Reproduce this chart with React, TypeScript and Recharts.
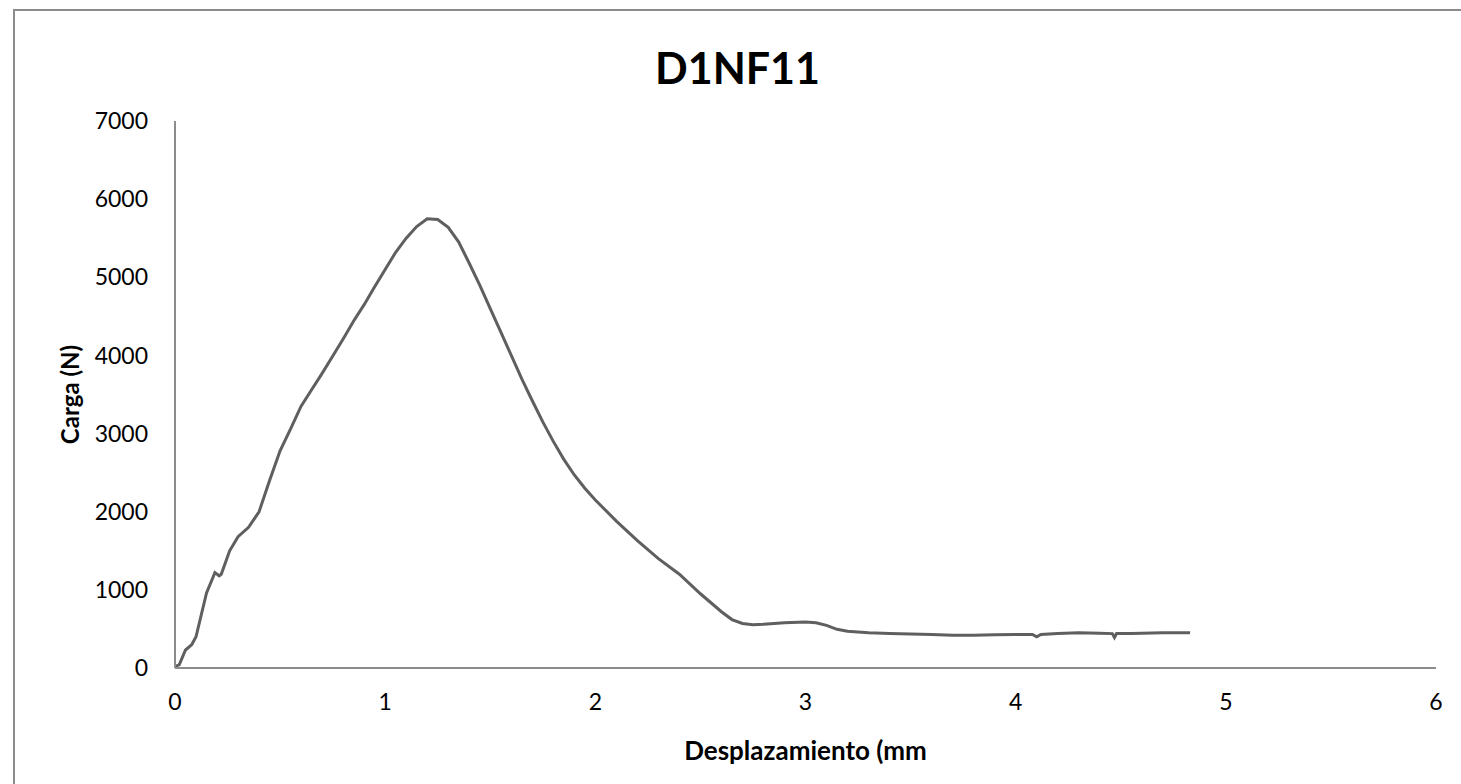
import React from 'react';
import { LineChart, Line, XAxis, YAxis, Label } from 'recharts';

// Desplazamiento (mm) and Carga (N)
const desplazamiento = [
  0, 0.02, 0.05, 0.08, 0.1, 0.15, 0.19, 0.21, 0.22, 0.26, 0.3, 0.35, 0.4, 0.45,
  0.5, 0.55, 0.6, 0.65, 0.7, 0.75, 0.8, 0.85, 0.9, 0.95, 1.0, 1.05, 1.1, 1.15,
  1.2, 1.25, 1.3, 1.35, 1.4, 1.45, 1.5, 1.55, 1.6, 1.65, 1.7, 1.75, 1.8, 1.85,
  1.9, 1.95, 2.0, 2.1, 2.2, 2.3, 2.4, 2.5, 2.6, 2.65, 2.7, 2.75, 2.8, 2.9,
  3.0, 3.05, 3.1, 3.15, 3.2, 3.3, 3.4, 3.5, 3.6, 3.7, 3.8, 3.9, 4.0, 4.08,
  4.1, 4.12, 4.2, 4.3, 4.4, 4.46, 4.47, 4.48, 4.55, 4.6, 4.7, 4.8, 4.83,
];
const carga = [
  20, 40, 230, 300, 400, 960, 1220, 1180, 1200, 1500, 1680, 1800, 2000, 2400,
  2780, 3060, 3350, 3560, 3770, 3990, 4210, 4440, 4650, 4880, 5100, 5320, 5500, 5650,
  5750, 5740, 5640, 5450, 5180, 4900, 4600, 4300, 4000, 3700, 3420, 3150, 2900, 2670,
  2470, 2300, 2150, 1880, 1630, 1400, 1200, 950, 720, 620, 570, 555, 560, 580,
  590, 580, 545, 495, 470, 450, 440, 435, 430, 420, 420, 425, 430, 430,
  400, 430, 440, 450, 445, 440, 390, 440, 440, 445, 450, 450, 450,
];

const xTicks = [0, 1, 2, 3, 4, 5, 6];
const yTicks = [0, 1000, 2000, 3000, 4000, 5000, 6000, 7000];

const data = desplazamiento.map((x, i) => ({ x, y: carga[i] }));

const font = 'Lato, "Open Sans", sans-serif';

export default function App() {
  return (
    <div style={{ position: 'absolute', left: 0, top: 0, width: 1461, height: 784, background: '#fff', fontFamily: font }}>
      {/* chart frame */}
      <div style={{ position: 'absolute', left: 13, top: 9, width: 1460, height: 790, borderLeft: '2px solid #8c8c8c', borderTop: '2px solid #8c8c8c' }} />
      <div style={{ position: 'absolute', left: 0, width: 1475, top: 42, textAlign: 'center', fontSize: 43, fontWeight: 700, color: '#000' }}>
        D1NF11
      </div>
      <LineChart
        width={1461}
        height={784}
        data={data}
        margin={{ top: 121, right: 25, left: 115, bottom: 86 }}
        style={{ position: 'absolute', left: 0, top: 0 }}
      >
        <XAxis
          dataKey="x"
          type="number"
          domain={[0, 6]}
          ticks={xTicks}
          height={30}
          tickLine={false}
          tickMargin={20}
          axisLine={{ stroke: '#8c8c8c', strokeWidth: 2 }}
          tick={{ fill: '#000', fontSize: 23, fontFamily: font }}
        >
          <Label value="Desplazamiento (mm" position="insideBottom" offset={-62} style={{ fill: '#000', fontSize: 26, fontWeight: 700, fontFamily: font }} />
        </XAxis>
        <YAxis
          type="number"
          domain={[0, 7000]}
          ticks={yTicks}
          width={60}
          tickLine={false}
          tickMargin={21}
          axisLine={{ stroke: '#8c8c8c', strokeWidth: 2 }}
          tick={{ fill: '#000', fontSize: 23, fontFamily: font }}
        >
          <Label value="Carga (N)" angle={-90} position="insideLeft" offset={-45} style={{ fill: '#000', fontSize: 24, fontWeight: 700, fontFamily: font, textAnchor: 'middle' }} />
        </YAxis>
        <Line
          type="linear"
          dataKey="y"
          stroke="#5f5f5f"
          strokeWidth={3}
          dot={false}
          isAnimationActive={false}
        />
      </LineChart>
    </div>
  );
}
